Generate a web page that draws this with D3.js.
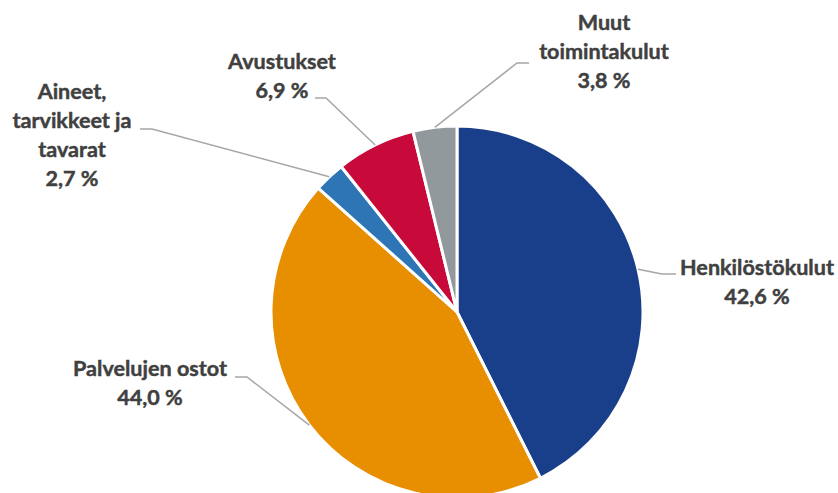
<!DOCTYPE html>
<html>
<head>
<meta charset="utf-8">
<script src="https://cdn.jsdelivr.net/npm/d3@7"></script>
<style>
html,body{margin:0;padding:0;background:#fff;}
svg{display:block;}
text{font-family:Lato,"Open Sans",sans-serif;font-weight:700;fill:#404040;stroke:#404040;stroke-width:0.45px;}
</style>
</head>
<body>
<div id="chart"></div>
<script>
(function(){
// data
const labels=[['Henkilöstökulut'],['Palvelujen ostot'],['Aineet,','tarvikkeet ja','tavarat'],['Avustukset'],['Muut','toimintakulut']];
const shares=[42.6,44.0,2.7,6.9,3.8];
const colors=['#193f8b','#e78f00','#2e75b6','#c80a3a','#92999c'];

// label layout: text centre x, first baseline y, elbow point, line end
const layout=[
 {cx:757,y:275,elbow:[662,274],end:[676,274]},
 {cx:150,y:376,elbow:[247,377],end:[235,377]},
 {cx:72,y:99,elbow:[152,129],end:[140,129]},
 {cx:282,y:69,elbow:[326,98],end:[315,98]},
 {cx:604,y:30,elbow:[517,63],end:[529,63]}
];

const W=838,H=493,cx=457,cy=312,r=186,lh=29;
const svg=d3.select('#chart').append('svg').attr('width',W).attr('height',H);

const pie=d3.pie().sort(null).value(d=>d)(shares);
const arc=d3.arc().innerRadius(0).outerRadius(r);
const g=svg.append('g').attr('transform',`translate(${cx},${cy})`);
g.selectAll('path').data(pie).enter().append('path')
 .attr('d',arc).attr('fill',(d,i)=>colors[i])
 .attr('stroke','#fff').attr('stroke-width',3).attr('stroke-linejoin','round');

// leader lines
const edge=d=>{const a=(d.startAngle+d.endAngle)/2;return [cx+r*Math.sin(a),cy-r*Math.cos(a)];};
svg.append('g').selectAll('polyline').data(pie).enter().append('polyline')
 .attr('points',(d,i)=>[edge(d),layout[i].elbow,layout[i].end].map(p=>p.join(',')).join(' '))
 .attr('fill','none').attr('stroke','#a6a6a6').attr('stroke-width',1.5);

// font size fitted so the widest label matches the reference width
const probe=svg.append('text').style('font-size','20px').text('Henkilöstökulut');
const fs=20*154/probe.node().getComputedTextLength();
probe.remove();

const fmt=v=>v.toFixed(1).replace('.',',')+' %';
const lab=svg.append('g').selectAll('text').data(pie).enter().append('text')
 .attr('text-anchor','middle').style('font-size',fs+'px')
 .attr('x',(d,i)=>layout[i].cx).attr('y',(d,i)=>layout[i].y);
lab.each(function(d,i){
 const t=d3.select(this);
 labels[i].concat([fmt(d.value)]).forEach((s,k)=>{
  t.append('tspan').attr('x',layout[i].cx).attr('y',layout[i].y+k*lh).text(s);
 });
});
})();
</script>
</body>
</html>
